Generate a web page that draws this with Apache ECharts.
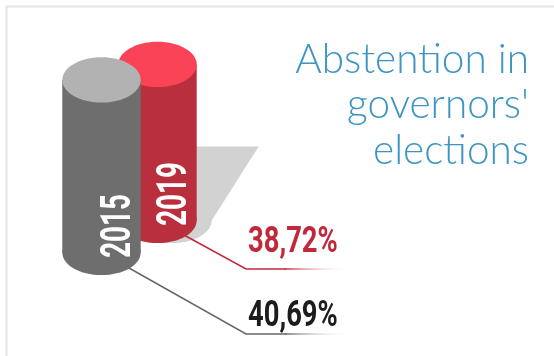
<!DOCTYPE html>
<html>
<head>
<meta charset="utf-8">
<script src="https://cdn.jsdelivr.net/npm/echarts@6/dist/echarts.min.js"></script>
<style>
  html, body { margin: 0; padding: 0; background: #fff; }
  #chart { width: 554px; height: 356px; }
</style>
</head>
<body>
<div id="chart"></div>
<script>
// Abstention in governors' elections, by election year
const years = ['2015', '2019'];
const abstentionPct = [40.69, 38.72];
const pctLabels = abstentionPct.map(v => v.toFixed(2).replace('.', ',') + '%');
const headline = "Abstention in\ngovernors'\nelections";

// value axis floor the cylinders stand on
const axisMin = 20;
const axisMax = 45;

// per-year styling: the later year sits one row further back
const rowLift = [0, 32];
const bodyColors = ['#6e6e6e', '#ba2f3e'];
const capColors = ['#b2b2b2', '#fb4357'];
const labelColors = ['#1c1c1c', '#c1283b'];
const leaderColors = ['#666666', '#c1283b'];
const calloutDrop = [81.5, 48.5];
const labelRise = [18, 27];
const calloutElbowX = 246;
const calloutEndX = 350;

// squeezed bold face standing in for a condensed display font
const condensedFont = 'Roboto, "Liberation Sans", sans-serif';

const chart = echarts.init(document.getElementById('chart'));

function renderCylinder(params, api) {
  const idx = api.value(0);
  const val = api.value(1);
  const top = api.coord([idx, val]);
  const base = api.coord([idx, axisMin]);
  const lift = rowLift[idx];
  const cx = top[0];
  const topY = top[1] - lift;
  const baseY = base[1] - lift;
  const rx = api.size([1, 0])[0] * 0.7;
  const ry = rx * 0.577;
  const children = [];

  // cast shadow behind the back cylinder
  if (lift > 0) {
    const pts = [[cx - rx + 62, baseY - 74], [cx + rx + 62, baseY - 74]];
    for (let a = 0; a <= 180; a += 10) {
      const t = a * Math.PI / 180;
      pts.push([cx + 15 + rx * Math.cos(t), baseY + ry * Math.sin(t)]);
    }
    children.push({ type: 'polygon', shape: { points: pts }, style: { fill: '#d2d2d2' } });
  }

  // leader line to the value label
  const elbowY = baseY + calloutDrop[idx];
  children.push({
    type: 'polyline',
    shape: { points: [[cx, baseY], [calloutElbowX, elbowY], [calloutElbowX + 40, elbowY]] },
    style: { stroke: leaderColors[idx], lineWidth: 1.5, fill: null }
  });
  children.push({
    type: 'line',
    shape: { x1: calloutElbowX + 39, y1: elbowY, x2: calloutEndX, y2: elbowY },
    style: {
      lineWidth: 1.5,
      stroke: {
        type: 'linear', global: true, x: calloutElbowX + 39, y: 0, x2: calloutEndX, y2: 0,
        colorStops: [
          { offset: 0, color: leaderColors[idx] },
          { offset: 1, color: 'rgba(255,255,255,0)' }
        ]
      }
    }
  });

  // cylinder body, base and cap
  children.push({ type: 'ellipse', shape: { cx: cx, cy: baseY, rx: rx, ry: ry }, style: { fill: bodyColors[idx] } });
  children.push({ type: 'rect', shape: { x: cx - rx, y: topY, width: rx * 2, height: baseY - topY }, style: { fill: bodyColors[idx] } });
  children.push({ type: 'ellipse', shape: { cx: cx, cy: topY, rx: rx, ry: ry }, style: { fill: capColors[idx] } });

  // year written up the side of the cylinder
  children.push({
    type: 'text',
    x: cx + 17.5, y: baseY - 26.5,
    rotation: Math.PI / 2,
    scaleX: 0.66,
    style: {
      text: years[idx], fill: '#ffffff',
      fontFamily: condensedFont,
      fontWeight: 'bold', fontSize: 42,
      align: 'center', verticalAlign: 'middle'
    }
  });

  // percentage label above the leader line
  children.push({
    type: 'text',
    x: calloutElbowX + 2, y: elbowY - labelRise[idx] + 1,
    scaleX: 0.75,
    style: {
      text: pctLabels[idx], fill: labelColors[idx],
      fontFamily: condensedFont,
      fontWeight: 'bold', fontSize: 36.5,
      align: 'left', verticalAlign: 'middle',
      shadowColor: 'rgba(150,150,150,0.75)', shadowOffsetX: 5, shadowOffsetY: 3, shadowBlur: 1
    }
  });

  return { type: 'group', children: children };
}

// back row first so the front cylinder overlaps it
const drawOrder = years.map((_, i) => i).reverse();

chart.setOption({
  animation: false,
  grid: { left: 73.5, width: 112, top: 44, height: 208.5 },
  xAxis: { type: 'category', data: years, show: false },
  yAxis: { type: 'value', min: axisMin, max: axisMax, show: false },
  graphic: [
    { type: 'line', shape: { x1: 6, y1: 6.5, x2: 554, y2: 6.5 }, style: { stroke: '#e4e4e4', lineWidth: 2 }, silent: true },
    { type: 'line', shape: { x1: 6.5, y1: 6, x2: 6.5, y2: 356 }, style: { stroke: '#e4e4e4', lineWidth: 2 }, silent: true },
    {
      type: 'text',
      x: 529, y: 37,
      silent: true,
      style: {
        text: headline,
        fontFamily: 'Lato, "Open Sans", sans-serif',
        fontWeight: 300,
        fontSize: 40.5,
        lineHeight: 45.5,
        align: 'right',
        verticalAlign: 'top',
        fill: '#3d95c4'
      }
    }
  ],
  series: [{
    type: 'custom',
    renderItem: renderCylinder,
    data: drawOrder.map(i => [i, abstentionPct[i]])
  }]
});
</script>
</body>
</html>
